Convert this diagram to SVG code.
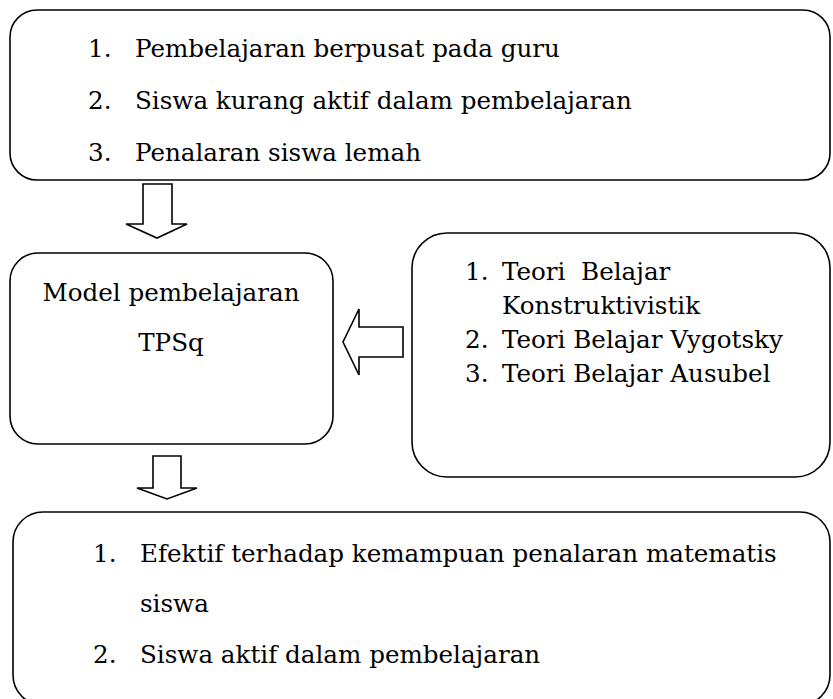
<svg xmlns="http://www.w3.org/2000/svg" width="833" height="699" viewBox="0 0 833 699">
<style>
.box{fill:#fff;stroke:#000;stroke-width:1.6}
.arr{fill:#fff;stroke:#000;stroke-width:1.6;stroke-linejoin:miter}
text{font-family:"DejaVu Serif","Liberation Serif",serif;font-size:24.6px;fill:#000}
</style>
<rect width="833" height="699" fill="#fff"/>
<g id="masalah">
<rect class="box" x="10" y="10" width="820" height="170" rx="27" ry="27"/>
<text x="88" y="57">1.</text><text x="135" y="57">Pembelajaran berpusat pada guru</text>
<text x="88" y="109">2.</text><text x="135" y="109">Siswa kurang aktif dalam pembelajaran</text>
<text x="88" y="161">3.</text><text x="135" y="161">Penalaran siswa lemah</text>
</g>
<g id="model">
<rect class="box" x="10" y="253" width="323" height="191" rx="28" ry="28"/>
<text x="171" y="301" text-anchor="middle">Model pembelajaran</text>
<text x="171" y="351" text-anchor="middle">TPSq</text>
</g>
<g id="teori">
<rect class="box" x="412" y="233" width="418" height="244" rx="35" ry="35"/>
<text x="465" y="280">1.</text><text x="502" y="280" xml:space="preserve">Teori  Belajar</text>
<text x="502" y="314">Konstruktivistik</text>
<text x="465" y="348">2.</text><text x="502" y="348">Teori Belajar Vygotsky</text>
<text x="465" y="382">3.</text><text x="502" y="382">Teori Belajar Ausubel</text>
</g>
<g id="hasil">
<rect class="box" x="13" y="512" width="817" height="193" rx="30" ry="30"/>
<text x="93" y="562">1.</text><text x="140" y="562">Efektif terhadap kemampuan penalaran matematis</text>
<text x="140" y="612">siswa</text>
<text x="93" y="663">2.</text><text x="140" y="663">Siswa aktif dalam pembelajaran</text>
</g>
<g id="connectors">
<polygon class="arr" points="143,184 172,184 172,224 187,224 157,238 126,224 143,224"/>
<polygon class="arr" points="403,327 403,357 359,357 359,375 343,342 359,309 359,327"/>
<polygon class="arr" points="153,456 181,456 181,488 197,488 167,499 137,488 153,488"/>
</g>
</svg>
